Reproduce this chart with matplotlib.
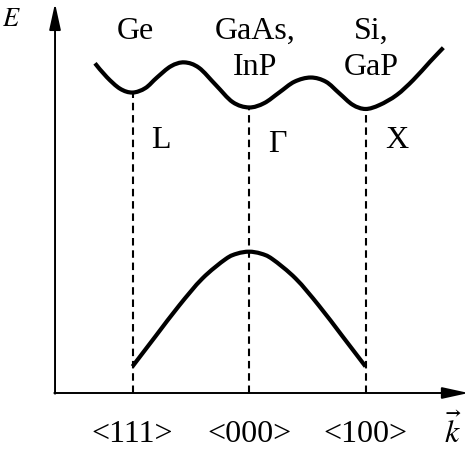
import matplotlib
matplotlib.use("Agg")
import matplotlib.pyplot as plt
from matplotlib.path import Path
from matplotlib.patches import PathPatch
import numpy as np

plt.rcParams['font.family'] = ['Liberation Serif', 'DejaVu Serif']
plt.rcParams['mathtext.fontset'] = 'stix'

# ---- data (k in units of the zone-edge distance, E in arbitrary units) ----
cb_k = [-1.322, -1.221, -1.107, -1.0, -0.89, -0.79, -0.67, -0.555, -0.43,
        -0.285, -0.14, 0.0, 0.13, 0.26, 0.39, 0.53, 0.66, 0.775, 0.89,
        1.0, 1.12, 1.268, 1.41, 1.554, 1.668]
cb_E = [2.830, 2.712, 2.612, 2.579, 2.617, 2.708, 2.805, 2.838, 2.792,
        2.644, 2.497, 2.451, 2.488, 2.580, 2.672, 2.708, 2.672, 2.573, 2.474,
        2.438, 2.472, 2.558, 2.687, 2.844, 2.964]

vb_k = [-1.0, -0.8, -0.6, -0.4, -0.2, -0.1, 0.0, 0.1, 0.2, 0.4, 0.6, 0.8, 1.0]
vb_E = [0.228, 0.490, 0.750, 0.983, 1.150, 1.197, 1.213, 1.197, 1.150,
        0.983, 0.750, 0.490, 0.228]

valley_k = [-1.0, 0.0, 1.0]
valley_E = [2.579, 2.451, 2.438]
valley_names = ['L', 'Γ', 'X']
direction_labels = ['<111>', '<000>', '<100>']
material_lines = [['Ge'], ['GaAs,', 'InP'], ['Si,', 'GaP']]


def smooth_path(xs, ys):
    """Bezier path through the given points (Catmull-Rom control points)."""
    p = np.column_stack([xs, ys]).astype(float)
    n = len(p)
    verts = [p[0]]
    codes = [Path.MOVETO]
    for i in range(n - 1):
        p0 = p[i - 1] if i > 0 else p[i]
        p1 = p[i]
        p2 = p[i + 1]
        p3 = p[i + 2] if i + 2 < n else p[i + 1]
        c1 = p1 + (p2 - p0) / 6.0
        c2 = p2 - (p3 - p1) / 6.0
        verts += [c1, c2, p2]
        codes += [Path.CURVE4] * 3
    return Path(verts, codes)


# ---- figure ----
fig = plt.figure(figsize=(4.69, 4.49), dpi=100)
ax = fig.add_axes([0, 0, 1, 1])
ax.set_xlim(-249 / 116.5, 220 / 116.5)
ax.set_ylim(-56 / 116.5, 393 / 116.5)
ax.axis('off')

FS = 23

# axes with arrows
x0 = -1.665
ax.annotate('', xy=(1.885, 0), xytext=(x0 - 0.006, 0),
            arrowprops=dict(arrowstyle='-|>,head_length=1.6,head_width=0.35',
                            lw=1.4, color='black', shrinkA=0, shrinkB=0))
ax.annotate('', xy=(x0, 3.345), xytext=(x0, -0.006),
            arrowprops=dict(arrowstyle='-|>,head_length=1.6,head_width=0.35',
                            lw=1.4, color='black', shrinkA=0, shrinkB=0))

# dashed verticals at the valleys
for k, e in zip(valley_k, valley_E):
    ax.plot([k, k], [0, e], color='black', lw=1.5,
            linestyle=(0, (3.6, 2.3)), solid_capstyle='butt')

# bands (smooth curves through the read points)
for xs, ys in ((cb_k, cb_E), (vb_k, vb_E)):
    ax.add_patch(PathPatch(smooth_path(xs, ys), facecolor='none',
                           edgecolor='black', lw=3.0, joinstyle='round',
                           capstyle='butt'))
    ax.plot(xs, ys, alpha=0)

# labels
ax.text(-2.040, 3.150, r'$E$', fontsize=19, ha='center', va='baseline')
ax.text(1.747, -0.43, r'$\vec{k}$', fontsize=FS, ha='center', va='baseline')

for k, lab in zip(valley_k, direction_labels):
    ax.text(k, -0.421, lab, fontsize=FS, ha='center', va='baseline')

name_pos = [(-0.755, 2.100), (0.245, 2.065), (1.268, 2.100)]
for (x, y), lab in zip(name_pos, valley_names):
    ax.text(x, y, lab, fontsize=FS, ha='center', va='baseline')

mat_x = [-0.979, 0.052, 1.047]
base_y = [3.039, 2.730]
for x, lines in zip(mat_x, material_lines):
    for y, s in zip(base_y, lines):
        ax.text(x, y, s, fontsize=FS, ha='center', va='baseline')

fig.savefig('out.png', dpi=100)
